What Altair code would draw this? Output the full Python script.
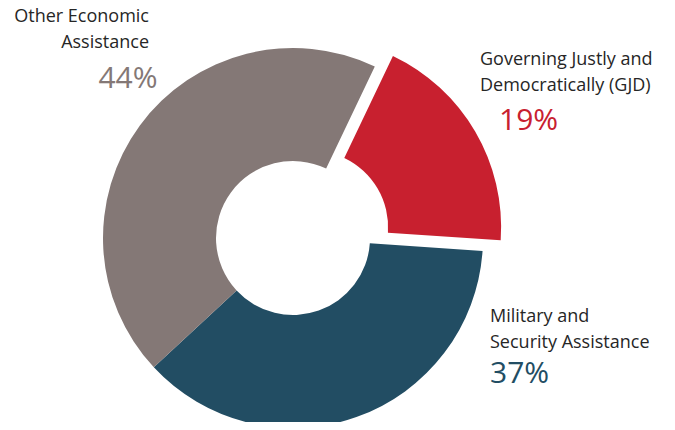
import math
import altair as alt
import pandas as pd

# Data
keys = ["GJD", "MIL", "OEA"]
labels = [
    "Governing Justly and\nDemocratically (GJD)",
    "Military and\nSecurity Assistance",
    "Other Economic\nAssistance",
]
shares = [19, 37, 44]
colors = ["#C8202F", "#224D63", "#847876"]

df = pd.DataFrame({"key": keys, "label": labels, "share": shares, "order": [0, 1, 2]})
df["pct"] = df["share"].astype(str) + "%"

FONT = "Open Sans"
CX, CY = 285, 230
R_OUT, R_IN = 190, 77
start = math.radians(25.5)
ex_ang = start + math.radians(19 * 3.6 / 2)
EX = 21

theta = alt.Theta("share:Q", stack=True,
                  scale=alt.Scale(domain=[0, 100], range=[start, start + 2 * math.pi]))
color = alt.Color("key:N", scale=alt.Scale(domain=keys, range=colors), legend=None)

base_arc = alt.Chart(df).mark_arc(outerRadius=R_OUT, innerRadius=R_IN).encode(
    theta=theta, color=color, order=alt.Order("order:Q"),
)

main = base_arc.encode(
    x=alt.value(CX), y=alt.value(CY),
    opacity=alt.condition("datum.key == 'GJD'", alt.value(0), alt.value(1)),
)
exploded = base_arc.encode(
    x=alt.value(CX + EX * math.sin(ex_ang)), y=alt.value(CY - EX * math.cos(ex_ang)),
    opacity=alt.condition("datum.key == 'GJD'", alt.value(1), alt.value(0)),
)


def name_text(key, x, y, align):
    return alt.Chart(df).transform_filter(f"datum.key == '{key}'").mark_text(
        align=align, baseline="alphabetic", lineBreak="\n", lineHeight=26,
        fontSize=18, font=FONT, color="#262626",
    ).encode(text="label:N", x=alt.value(x), y=alt.value(y))


def pct_text(key, x, y, align):
    return alt.Chart(df).transform_filter(f"datum.key == '{key}'").mark_text(
        align=align, baseline="alphabetic", fontSize=30, font=FONT,
    ).encode(text="pct:N", color=color, x=alt.value(x), y=alt.value(y))


chart = alt.layer(
    main, exploded,
    name_text("OEA", 141, 14, "right"), pct_text("OEA", 120, 80, "center"),
    name_text("GJD", 472, 57, "left"), pct_text("GJD", 491, 122, "left"),
    name_text("MIL", 482, 314, "left"), pct_text("MIL", 482, 375, "left"),
).properties(
    width=659, height=414,
    autosize=alt.AutoSizeParams(type="none"), padding=0,
).configure_view(stroke=None)

chart.save("out.html", embed_options={"renderer": "svg", "actions": False})
